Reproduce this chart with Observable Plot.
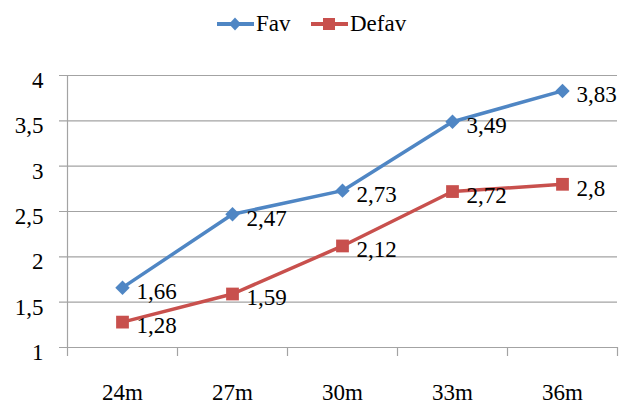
<!DOCTYPE html>
<html>
<head>
<meta charset="utf-8">
<style>
  html, body { margin: 0; padding: 0; background: #fff; }
  body { width: 622px; height: 405px; overflow: hidden; font-family: 'Liberation Serif', 'DejaVu Serif', 'Noto Serif CJK SC', serif; }
  #legend { position: relative; height: 50px; }
  .item { position: absolute; top: 11px; display: flex; align-items: center; font-size: 23px; color: #000; }
  .item svg { display: block; }
  #chart svg { display: block; }
</style>
<script src="https://cdn.jsdelivr.net/npm/d3@7"></script>
<script src="https://cdn.jsdelivr.net/npm/@observablehq/plot@0.6"></script>
</head>
<body>
<div id="legend"></div>
<div id="chart"></div>
<script>
const categories = ["24m", "27m", "30m", "33m", "36m"];
const fav = [1.66, 2.47, 2.73, 3.49, 3.83];
const defav = [1.28, 1.59, 2.12, 2.72, 2.8];
const yTicks = [1, 1.5, 2, 2.5, 3, 3.5, 4];
const seriesNames = ["Fav", "Defav"];

const blue = "#4F86C4";
const red = "#C8504D";
const grid = "#a3a3a3";
const fontStack = "'Liberation Serif', 'DejaVu Serif', 'Noto Serif CJK SC', serif";
const fmt = d => String(d).replace(".", ",");

// Legend (HTML, above the SVG)
const legend = document.getElementById("legend");
const legendItems = [
  {name: seriesNames[0], color: blue, shape: "diamond", left: 217},
  {name: seriesNames[1], color: red, shape: "square", left: 311}
];
for (const it of legendItems) {
  const div = document.createElement("div");
  div.className = "item";
  div.style.left = it.left + "px";
  div.style.fontFamily = fontStack;
  const marker = it.shape === "diamond"
    ? `<path d="M18,3.5 L24,10 L18,16.5 L12,10 Z" fill="${it.color}"/>`
    : `<rect x="12" y="4" width="12" height="12" fill="${it.color}"/>`;
  div.innerHTML = `<svg width="37" height="20"><line x1="0" x2="37" y1="10" y2="10" stroke="${it.color}" stroke-width="4"/>${marker}</svg><span style="margin-left:2px">${it.name}</span>`;
  legend.appendChild(div);
}

const table = categories.map((c, i) => ({cat: c, fav: fav[i], defav: defav[i]}));
const half = 55;

const chart = Plot.plot({
  width: 622,
  height: 355,
  marginLeft: 67,
  marginRight: 5,
  marginTop: 25,
  marginBottom: 58,
  style: {fontFamily: fontStack, fontSize: "23px", color: "#000", background: "#fff"},
  x: {type: "point", domain: categories, padding: 0.5, axis: null},
  y: {domain: [1, 4], axis: null},
  marks: [
    Plot.ruleY(yTicks, {stroke: grid, strokeWidth: 1.2, insetLeft: -8}),
    Plot.ruleX([categories[0]], {dx: -half, stroke: grid, strokeWidth: 1.2, insetBottom: -9}),
    Plot.ruleX(categories.slice(1), {dx: -half, y1: 1, y2: 1, stroke: grid, strokeWidth: 1.2, insetBottom: -9}),
    Plot.ruleX([categories[categories.length - 1]], {dx: half, y1: 1, y2: 1, stroke: grid, strokeWidth: 1.2, insetBottom: -9}),
    Plot.axisY({ticks: yTicks, tickFormat: fmt, tickSize: 0, tickPadding: 24, dy: 5, fontSize: 23, fontFamily: fontStack, fill: "#000", label: null}),
    Plot.axisX({tickSize: 0, tickPadding: 36, fontSize: 23, fontFamily: fontStack, fill: "#000", label: null}),
    Plot.line(table, {x: "cat", y: "fav", stroke: blue, strokeWidth: 3.5}),
    Plot.line(table, {x: "cat", y: "defav", stroke: red, strokeWidth: 3.5}),
    Plot.dot(table, {x: "cat", y: "fav", symbol: "diamond2", r: 6.5, fill: blue, stroke: "none"}),
    Plot.dot(table, {x: "cat", y: "defav", symbol: "square", r: 7.2, fill: red, stroke: "none"}),
    Plot.text(table, {x: "cat", y: "fav", text: d => fmt(d.fav), textAnchor: "start", dx: 14, dy: 4, fontSize: 23, fontFamily: fontStack, fill: "#000"}),
    Plot.text(table, {x: "cat", y: "defav", text: d => fmt(d.defav), textAnchor: "start", dx: 14, dy: 4, fontSize: 23, fontFamily: fontStack, fill: "#000"})
  ]
});
document.getElementById("chart").appendChild(chart);
</script>
</body>
</html>
